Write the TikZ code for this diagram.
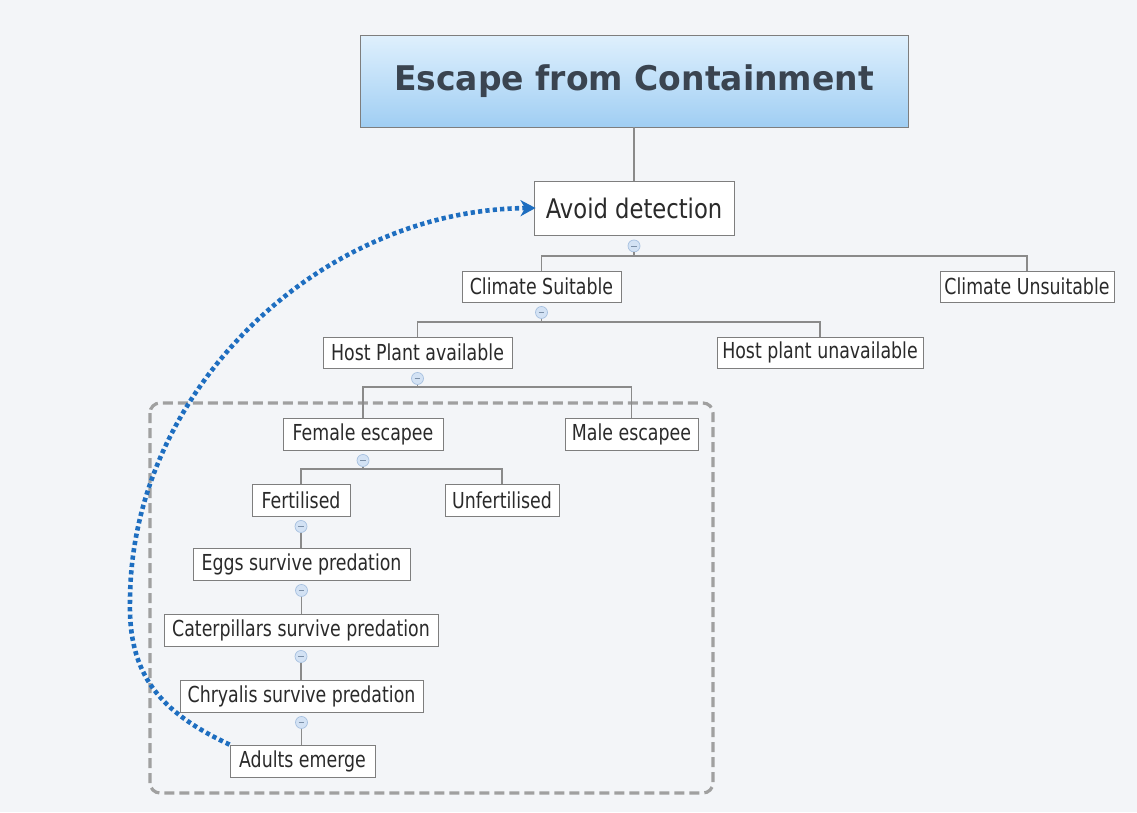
\documentclass[tikz,border=0pt]{standalone}
\usepackage{fontspec}
\setmainfont{DejaVu Sans}
\newfontfamily\nodefont[FakeStretch=0.79]{DejaVu Sans}
\newfontfamily\mainnodefont[FakeStretch=0.84]{DejaVu Sans}
\newfontfamily\titlefont[FakeStretch=0.97]{DejaVu Sans}
\usetikzlibrary{arrows.meta,calc}
\definecolor{bg}{HTML}{F3F5F8}
\definecolor{boxline}{HTML}{7E7E7E}
\definecolor{conn}{HTML}{8A8A8A}
\definecolor{txt}{HTML}{2A2A2A}
\definecolor{titletxt}{HTML}{3A4450}
\definecolor{titletop}{HTML}{DFF0FD}
\definecolor{titlebot}{HTML}{A0CEF3}
\definecolor{cfill}{HTML}{D3E2F4}
\definecolor{cdraw}{HTML}{A6C0E0}
\definecolor{arrowblue}{HTML}{1E6EC0}
\definecolor{grpgray}{HTML}{A0A0A0}
\begin{document}
\begin{tikzpicture}[x=1pt,y=-1pt,
  topic/.style={draw=boxline,line width=0.9pt,fill=white,inner sep=0pt,text=txt,
    font=\nodefont\fontsize{22}{26}\selectfont,minimum height=31pt},
  conn/.style={draw=conn,line width=1.1pt},
  collapse/.style={circle,draw=cdraw,fill=cfill,line width=0.7pt,minimum size=12pt,inner sep=0pt,
    path picture={\draw[cdraw!75!black,line width=0.8pt]
      ([xshift=-2.8pt]path picture bounding box.center) -- ([xshift=2.8pt]path picture bounding box.center);}},
  grp/.style={draw=grpgray,line width=3.2pt,dash pattern=on 10pt off 5pt,rounded corners=10pt},
  relation/.style={draw=arrowblue,line width=4.6pt,dash pattern=on 4.2pt off 3.2pt,
    -{Stealth[length=15pt,width=16pt,inset=4.5pt]}}
]
\useasboundingbox (0,0) rectangle (1137,812);
\fill[bg] (0,0) rectangle (1137,812);

% group boundary
\draw[grp] (150,403) rectangle (713,793);

% nodes
\node[draw=boxline,line width=0.9pt,top color=titletop,bottom color=titlebot,
  minimum width=548pt,minimum height=92pt,inner sep=0pt,text=titletxt,
  font=\titlefont\bfseries\fontsize{34}{40}\selectfont] (title) at (634,81) {Escape from Containment};
\node[topic,minimum width=200pt,minimum height=54pt,font=\mainnodefont\fontsize{27}{31}\selectfont] (avoid) at (634,208) {Avoid detection};
\node[topic,minimum width=159pt] (cs) at (541.5,286.5) {Climate Suitable};
\node[topic,minimum width=174pt] (cu) at (1027,286.5) {Climate Unsuitable};
\node[topic,minimum width=189pt] (hpa) at (417.5,352.5) {Host Plant available};
\node[topic,minimum width=206pt] (hpu) at (820,352.5) {Host plant unavailable};
\node[topic,minimum width=160pt,minimum height=32pt] (fe) at (363,434) {Female escapee};
\node[topic,minimum width=133pt,minimum height=32pt] (me) at (631.5,434) {Male escapee};
\node[topic,minimum width=98pt,minimum height=32pt] (fert) at (301,500) {Fertilised};
\node[topic,minimum width=114pt,minimum height=32pt] (unf) at (502,500) {Unfertilised};
\node[topic,minimum width=217pt,minimum height=32pt] (eggs) at (301.5,564) {Eggs survive predation};
\node[topic,minimum width=274pt,minimum height=32pt] (cat) at (301,630) {Caterpillars survive predation};
\node[topic,minimum width=243pt,minimum height=32pt] (chr) at (301.5,696) {Chryalis survive predation};
\node[topic,minimum width=145pt,minimum height=32pt] (adu) at (302.5,761) {Adults emerge};

% bar levels
\coordinate (b1) at (0,256);
\coordinate (b2) at (0,322);
\coordinate (b3) at (0,387);
\coordinate (b4) at (0,469);

% connectors
\draw[conn] (title.south) -- (avoid.north);

\node[collapse] (k1) at ($(avoid.south)+(0,10.5)$) {};
\draw[conn] (k1.south) -- (k1.south |- b1) -| (cs.north);
\draw[conn] (k1.south |- b1) -| (cu.north);

\node[collapse] (k2) at ($(cs.south)+(0,10)$) {};
\draw[conn] (k2.south) -- (k2.south |- b2) -| (hpa.north);
\draw[conn] (k2.south |- b2) -| (hpu.north);

\node[collapse] (k3) at ($(hpa.south)+(0,10)$) {};
\draw[conn] (k3.south) -- (k3.south |- b3) -| (fe.north);
\draw[conn] (k3.south |- b3) -| (me.north);

\node[collapse] (k4) at ($(fe.south)+(0,10)$) {};
\draw[conn] (k4.south) -- (k4.south |- b4) -| (fert.north);
\draw[conn] (k4.south |- b4) -| (unf.north);

\node[collapse] (k5) at ($(fert.south)+(0,10)$) {};
\draw[conn] (k5.south) -- (k5.south |- eggs.north);
\node[collapse] (k6) at ($(eggs.south)+(0,10)$) {};
\draw[conn] (k6.south) -- (k6.south |- cat.north);
\node[collapse] (k7) at ($(cat.south)+(0,10)$) {};
\draw[conn] (k7.south) -- (k7.south |- chr.north);
\node[collapse] (k8) at ($(chr.south)+(0,10)$) {};
\draw[conn] (k8.south) -- (k8.south |- adu.north);

% relationship arrow
\coordinate (turn) at (130,600);
\draw[relation] (adu.north west) .. controls (160,712) and (128,675) .. (turn)
  .. controls (131,392) and (318,210) .. ([xshift=2pt]avoid.west);
\end{tikzpicture}
\end{document}
